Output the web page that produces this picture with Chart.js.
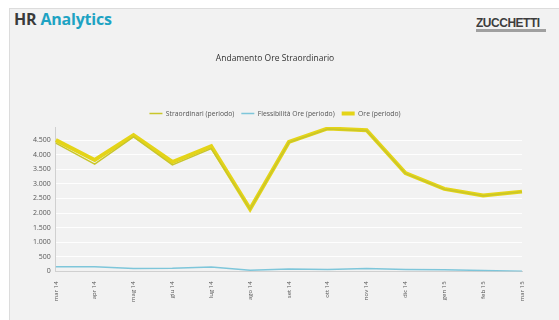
<!DOCTYPE html>
<html>
<head>
<meta charset="utf-8">
<script src="https://cdn.jsdelivr.net/npm/chart.js@4"></script>
<style>
  html, body { margin: 0; padding: 0; background: #fff; }
  body { width: 559px; height: 320px; position: relative; overflow: hidden; font-family: "Open Sans", sans-serif; }
  #panel {
    position: absolute; left: 9px; top: 8px; right: 0; bottom: 0;
    background: #f2f2f2; border-left: 1px solid #dcdcdc; border-top: 1px solid #dcdcdc;
  }
  #brand { position: absolute; left: 14px; top: 8px; font-size: 16px; font-weight: 700; letter-spacing: -0.2px; }
  #brand .hr { color: #3a3a3a; }
  #brand .an { color: #1ea3c3; }
  #logo { position: absolute; left: 476px; top: 16px; width: 80px; height: 20px; }
  #logo .name { font-family: "Liberation Sans", sans-serif; font-weight: 700; font-size: 13px; color: #3d3d3d;
    letter-spacing: -0.5px; transform: scaleX(0.92); transform-origin: left; display: block; line-height: 13px; }
  #logo .arrow { position: absolute; left: 0; top: 13px; width: 70px; height: 3px; background: #a0a0a0; }
  #wrap { position: absolute; left: 0; top: 0; width: 559px; height: 320px; }
</style>
</head>
<body>
<div id="panel"></div>
<div id="brand"><span class="hr">HR</span> <span class="an">Analytics</span></div>
<div id="logo"><span class="name">ZUCCHETTI</span><span class="arrow"></span></div>
<div id="wrap"><canvas id="chart" width="559" height="320"></canvas></div>
<script>
  // months on the x axis
  var months = ['mar 14', 'apr 14', 'mag 14', 'giu 14', 'lug 14', 'ago 14', 'set 14',
                'ott 14', 'nov 14', 'dic 14', 'gen 15', 'feb 15', 'mar 15'];

  // values
  var straordinari = [4400, 3680, 4610, 3650, 4210, 2130, 4420, 4880, 4820, 3360, 2820, 2590, 2730];
  var flessibilita = [160, 160, 100, 110, 150, 40, 80, 70, 100, 70, 60, 30, 10];
  var ore          = [4500, 3820, 4670, 3750, 4290, 2140, 4440, 4900, 4840, 3370, 2830, 2600, 2735];

  // y tick labels (top of the axis sits a little above the last one)
  var yTicks = [0, 500, 1000, 1500, 2000, 2500, 3000, 3500, 4000, 4500];
  var yMax = 4950;

  function fmtIt(v) {
    return String(v).replace(/\B(?=(\d{3})+(?!\d))/g, '.');
  }

  var txtCol = '#555';

  new Chart(document.getElementById('chart'), {
    type: 'line',
    data: {
      labels: months,
      datasets: [
        {
          label: 'Straordinari (periodo)',
          data: straordinari,
          borderColor: '#c9c62a',
          backgroundColor: '#c9c62a',
          borderWidth: 1.5,
          pointRadius: 0,
          tension: 0
        },
        {
          label: 'Flessibilità Ore (periodo)',
          data: flessibilita,
          borderColor: '#7ec6da',
          backgroundColor: '#7ec6da',
          borderWidth: 1.5,
          pointRadius: 0,
          tension: 0
        },
        {
          label: 'Ore (periodo)',
          data: ore,
          borderColor: '#e4d418',
          backgroundColor: '#e4d418',
          borderWidth: 4,
          pointRadius: 0,
          tension: 0
        }
      ]
    },
    options: {
      responsive: false,
      animation: false,
      layout: { padding: { left: 28, right: 37, top: 0, bottom: 16 } },
      plugins: {
        title: {
          display: true,
          text: 'Andamento Ore Straordinario',
          color: '#333',
          font: { family: 'Open Sans', size: 8.5, weight: 'normal' },
          padding: { top: 53, bottom: 40 }
        },
        legend: {
          display: true,
          position: 'top',
          labels: {
            color: txtCol,
            font: { family: 'Open Sans', size: 6.8 },
            usePointStyle: true,
            pointStyle: 'line',
            pointStyleWidth: 13,
            boxWidth: 9,
            padding: 7
          }
        },
        tooltip: { enabled: false }
      },
      scales: {
        x: {
          offset: false,
          grid: { display: false },
          border: { color: '#d0d0d0' },
          ticks: {
            color: txtCol,
            font: { family: 'Open Sans', size: 6 },
            minRotation: 90,
            maxRotation: 90,
            autoSkip: false,
            padding: 2
          }
        },
        y: {
          min: 0,
          max: yMax,
          afterBuildTicks: function (scale) {
            scale.ticks = yTicks.map(function (v) { return { value: v }; });
          },
          grid: { color: 'rgba(255,255,255,0.9)', drawTicks: false },
          border: { color: '#d0d0d0' },
          ticks: {
            color: txtCol,
            font: { family: 'Open Sans', size: 7 },
            padding: 5,
            callback: function (v) { return fmtIt(v); }
          }
        }
      }
    }
  });
</script>
</body>
</html>
